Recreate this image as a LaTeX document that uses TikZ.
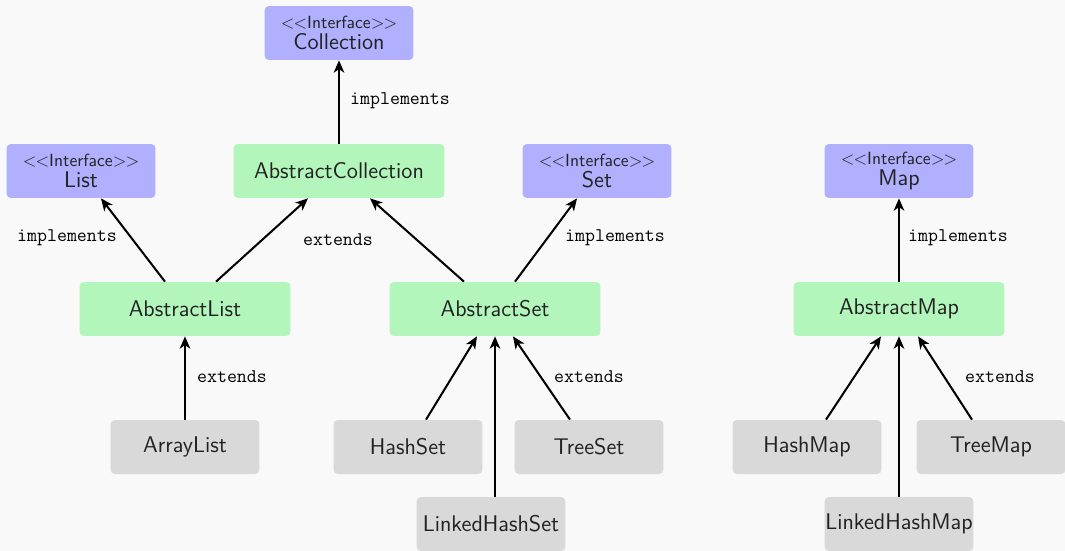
\documentclass[tikz,border=0pt]{standalone}
\usetikzlibrary{arrows.meta}
\renewcommand{\familydefault}{\sfdefault}
\definecolor{bgc}{HTML}{F9F9F9}
\definecolor{ifc}{HTML}{B0B0FF}
\definecolor{absc}{HTML}{B3F6BC}
\definecolor{impc}{HTML}{D9D9D9}
\definecolor{txt}{HTML}{222222}
\tikzset{
  box/.style={rounded corners=2.5pt, minimum height=1.08cm, inner sep=0pt,
    text=txt, font=\fontsize{12.9}{15}\selectfont, align=center},
  narrow/.style={box, minimum width=2.98cm},
  wide/.style={box, minimum width=4.22cm},
  iface/.style={narrow, fill=ifc},
  abst/.style={wide, fill=absc},
  impl/.style={narrow, fill=impc},
  rel/.style={line width=1.15pt, -{Stealth[length=7pt, width=6pt, inset=2pt]}},
  lbl/.style={font=\ttfamily\fontsize{11}{12}\selectfont, text=black, inner sep=0pt},
}
\newcommand{\iftag}{{\fontsize{10}{11}\selectfont <\kern-0.5pt<Interface>\kern-0.5pt>}}
\begin{document}
\begin{tikzpicture}[x=0.02cm, y=-0.02cm]
  \fill[bgc] (0,0) rectangle (1065,551);
  \useasboundingbox (0,0) rectangle (1065,551);

  % interfaces
  \node[iface] (coll) at (339,33) {\iftag\\[-3pt]Collection};
  \node[iface] (list) at (81,171) {\iftag\\[-3pt]List};
  \node[iface] (set)  at (597,171) {\iftag\\[-3pt]Set};
  \node[iface] (map)  at (899,171) {\iftag\\[-3pt]Map};

  % abstract classes
  \node[abst] (acoll) at (339,171) {AbstractCollection};
  \node[abst] (alist) at (185,309) {AbstractList};
  \node[abst] (aset)  at (495,309) {AbstractSet};
  \node[abst] (amap)  at (899,309) {AbstractMap};

  % concrete classes
  \node[impl] (arr)   at (185,447) {ArrayList};
  \node[impl] (hset)  at (408,447) {HashSet};
  \node[impl] (tset)  at (589,447) {TreeSet};
  \node[impl] (lhset) at (491,524) {LinkedHashSet};
  \node[impl] (hmap)  at (807,447) {HashMap};
  \node[impl] (tmap)  at (991,447) {TreeMap};
  \node[impl] (lhmap) at (899,524) {LinkedHashMap};

  % relations
  \draw[rel] (acoll.north) -- (coll.south);
  \draw[rel] ([xshift=-0.40cm]alist.north) -- ([xshift=0.40cm]list.south);
  \draw[rel] ([xshift=0.62cm]alist.north) -- ([xshift=-0.62cm]acoll.south);
  \draw[rel] ([xshift=-0.62cm]aset.north) -- ([xshift=0.62cm]acoll.south);
  \draw[rel] ([xshift=0.40cm]aset.north) -- ([xshift=-0.40cm]set.south);
  \draw[rel] (arr.north) -- (alist.south);
  \draw[rel] ([xshift=0.36cm]hset.north) -- ([xshift=-0.36cm]aset.south);
  \draw[rel] ([xshift=-0.38cm]tset.north) -- ([xshift=0.36cm]aset.south);
  \draw[rel] (lhset.north -| aset.south) -- (aset.south);
  \draw[rel] ([xshift=0.38cm]hmap.north) -- ([xshift=-0.36cm]amap.south);
  \draw[rel] (lhmap.north) -- (amap.south);
  \draw[rel] ([xshift=-0.38cm]tmap.north) -- ([xshift=0.38cm]amap.south);
  \draw[rel] (amap.north) -- (map.south);

  % relation labels
  \node[lbl] (l1) at (400,101) {implements};
  \node[lbl] (l2) at (67,238)  {implements};
  \node[lbl] (l3) at (338,240) {extends};
  \node[lbl] (l4) at (615,238) {implements};
  \node[lbl] (l5) at (958,238) {implements};
  \node[lbl] (l6) at (232,377) {extends};
  \node[lbl] (l7) at (589,377) {extends};
  \node[lbl] (l8) at (1000,377) {extends};
\end{tikzpicture}
\end{document}
